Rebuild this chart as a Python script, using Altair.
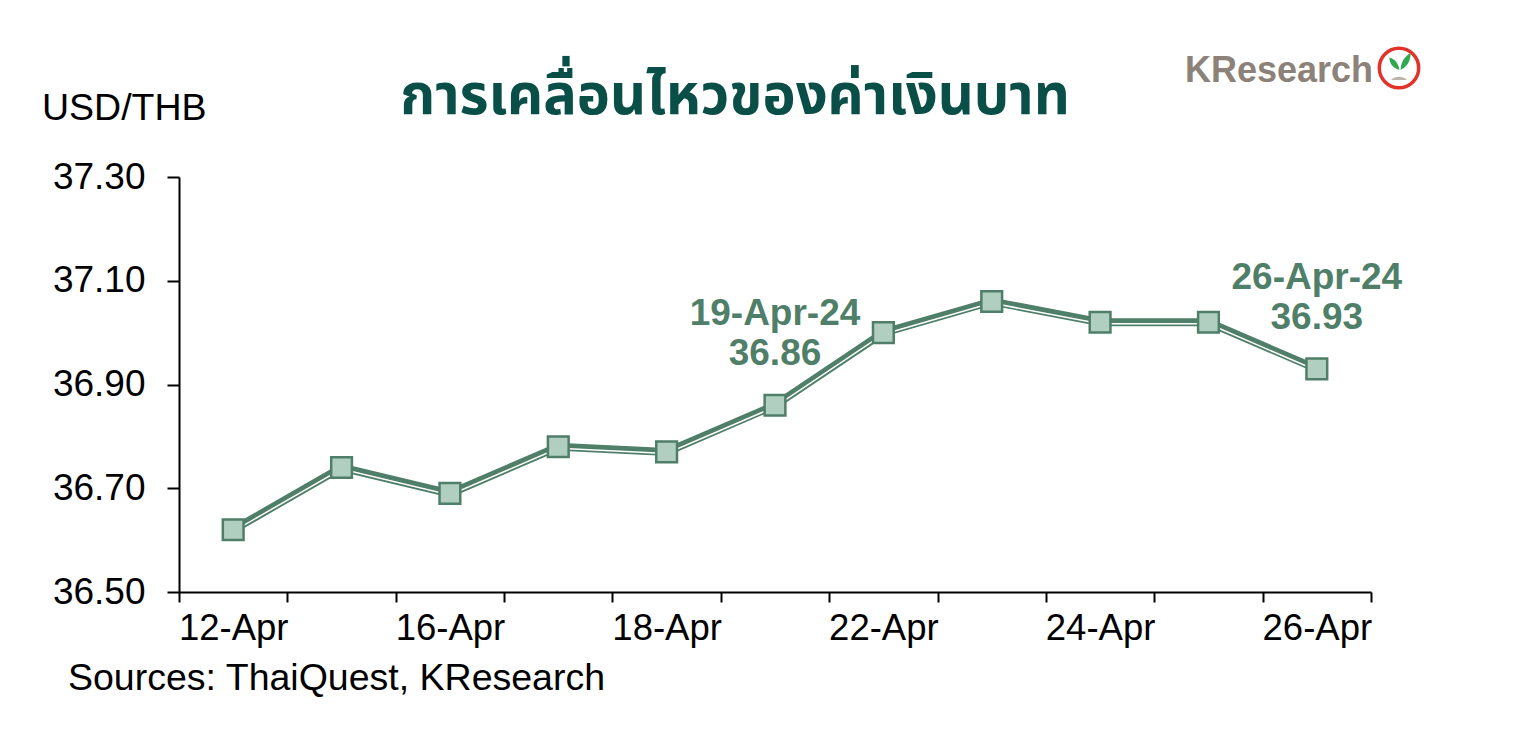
import altair as alt
import pandas as pd

dates = ["12-Apr", "15-Apr", "16-Apr", "17-Apr", "18-Apr", "19-Apr",
         "22-Apr", "23-Apr", "24-Apr", "25-Apr", "26-Apr"]
rates = [36.62, 36.74, 36.69, 36.78, 36.77, 36.86, 37.00, 37.06, 37.02, 37.02, 36.93]
shown_labels = ["12-Apr", "16-Apr", "18-Apr", "22-Apr", "24-Apr", "26-Apr"]
ann_dates = ["19-Apr", "26-Apr"]
ann_line1 = ["19-Apr-24", "26-Apr-24"]
ann_line2 = ["36.86", "36.93"]
y_ticks = [36.50, 36.70, 36.90, 37.10, 37.30]

title_text = "การเคลื่อนไหวของค่าเงินบาท"
unit_text = "USD/THB"
source_text = "Sources: ThaiQuest, KResearch"
logo_text = "KResearch"

GREEN = "#4F7F68"
FILL = "#B0CFC0"
FONT = "Liberation Sans"

df = pd.DataFrame({"date": dates, "rate": rates})
ann = pd.DataFrame({"date": ann_dates,
                    "rate": [rates[dates.index(d)] for d in ann_dates],
                    "l1": ann_line1, "l2": ann_line2})

lbl_expr = "indexof(" + str(shown_labels) + ", datum.value) >= 0 ? datum.value : ''"

x_enc = alt.X("date:O", sort=dates,
              scale=alt.Scale(type="band", paddingInner=0, paddingOuter=0),
              axis=alt.Axis(title=None, tickBand="extent", labelExpr=lbl_expr,
                            labelAngle=0, labelFont=FONT, labelFontSize=36.5,
                            labelColor="black", labelPadding=8, tickSize=10,
                            tickWidth=2, tickColor="black", domainColor="black",
                            domainWidth=2, grid=False))
y_enc = alt.Y("rate:Q",
              scale=alt.Scale(domain=[36.5, 37.3], nice=False, zero=False),
              axis=alt.Axis(title=None, values=y_ticks, format=".2f",
                            labelFont=FONT, labelFontSize=37, labelColor="black",
                            labelPadding=22, tickSize=12, tickWidth=2,
                            tickColor="black", domainColor="black",
                            domainWidth=2, grid=False))

base = alt.Chart(df)
thick = base.mark_line(color=GREEN, strokeWidth=8).encode(x=x_enc, y=y_enc)
stripe = base.mark_line(color="white", strokeWidth=1.5, yOffset=1.6).encode(
    x=alt.X("date:O", sort=dates), y="rate:Q")
pts = base.mark_point(shape="square", size=430, filled=True, fill=FILL,
                      stroke=GREEN, strokeWidth=2.5, opacity=1).encode(
    x=alt.X("date:O", sort=dates), y="rate:Q")

a1 = alt.Chart(ann).mark_text(font=FONT, fontSize=37, fontWeight="bold",
                              color=GREEN, dy=-91).encode(
    x=alt.X("date:O", sort=dates), y="rate:Q", text="l1:N")
a2 = alt.Chart(ann).mark_text(font=FONT, fontSize=37, fontWeight="bold",
                              color=GREEN, dy=-51).encode(
    x=alt.X("date:O", sort=dates), y="rate:Q", text="l2:N")

def label(text, x, y, **kw):
    return alt.Chart(pd.DataFrame({"t": [text]})).mark_text(**kw).encode(
        text="t:N", x=alt.value(x), y=alt.value(y))

title = label(title_text, 556, -63, font="Noto Sans Thai, Noto Sans, Loma, sans-serif",
              fontSize=56, fontWeight="bold", color="#0A4F47", align="center",
              baseline="alphabetic")
unit = label(unit_text, -137, -57, font=FONT, fontSize=37.5, color="black",
             align="left", baseline="alphabetic")
source = label(source_text, -111, 513, font=FONT, fontSize=37.5, color="black",
               align="left", baseline="alphabetic")
logo = label(logo_text, 1006, -95, font=FONT, fontSize=36, fontWeight="bold",
             color="#8C8279", align="left", baseline="alphabetic")

circle = alt.Chart(pd.DataFrame({"t": [1]})).mark_point(
    shape="circle", size=1550, filled=False, stroke="#E2332A", strokeWidth=3.5,
    opacity=1).encode(x=alt.value(1220), y=alt.value(-109))
leaf_path = ("M-0.05,0.6 C-0.15,0 -0.45,-0.35 -0.95,-0.5 C-0.95,0.1 -0.55,0.5 -0.05,0.6 Z "
             "M0.05,0.6 C0.1,-0.1 0.4,-0.6 0.95,-0.9 C0.95,-0.1 0.55,0.4 0.05,0.6 Z")
leaves = alt.Chart(pd.DataFrame({"t": [1]})).mark_point(
    shape=leaf_path, size=500, filled=True, fill="#2FA84F", opacity=1,
    strokeWidth=0).encode(x=alt.value(1221), y=alt.value(-114))
ground = alt.Chart(pd.DataFrame({"t": [1]})).mark_point(
    shape="M-1,0.25 C-0.5,-0.3 0.5,-0.3 1,0.25 Z", size=260, filled=True,
    fill="#BDB5AD", opacity=1, strokeWidth=0).encode(
    x=alt.value(1220), y=alt.value(-99))

chart = alt.layer(thick, stripe, pts, a1, a2, title, unit, source, logo,
                  circle, leaves, ground).properties(
    width=1192, height=415,
    background="white",
    autosize=alt.AutoSizeParams(type="none"),
    padding={"left": 171, "top": 169, "right": 140, "bottom": 130},
).configure_view(strokeWidth=0, stroke="transparent")

chart.save("out.html", embed_options={"renderer": "svg", "actions": False})
